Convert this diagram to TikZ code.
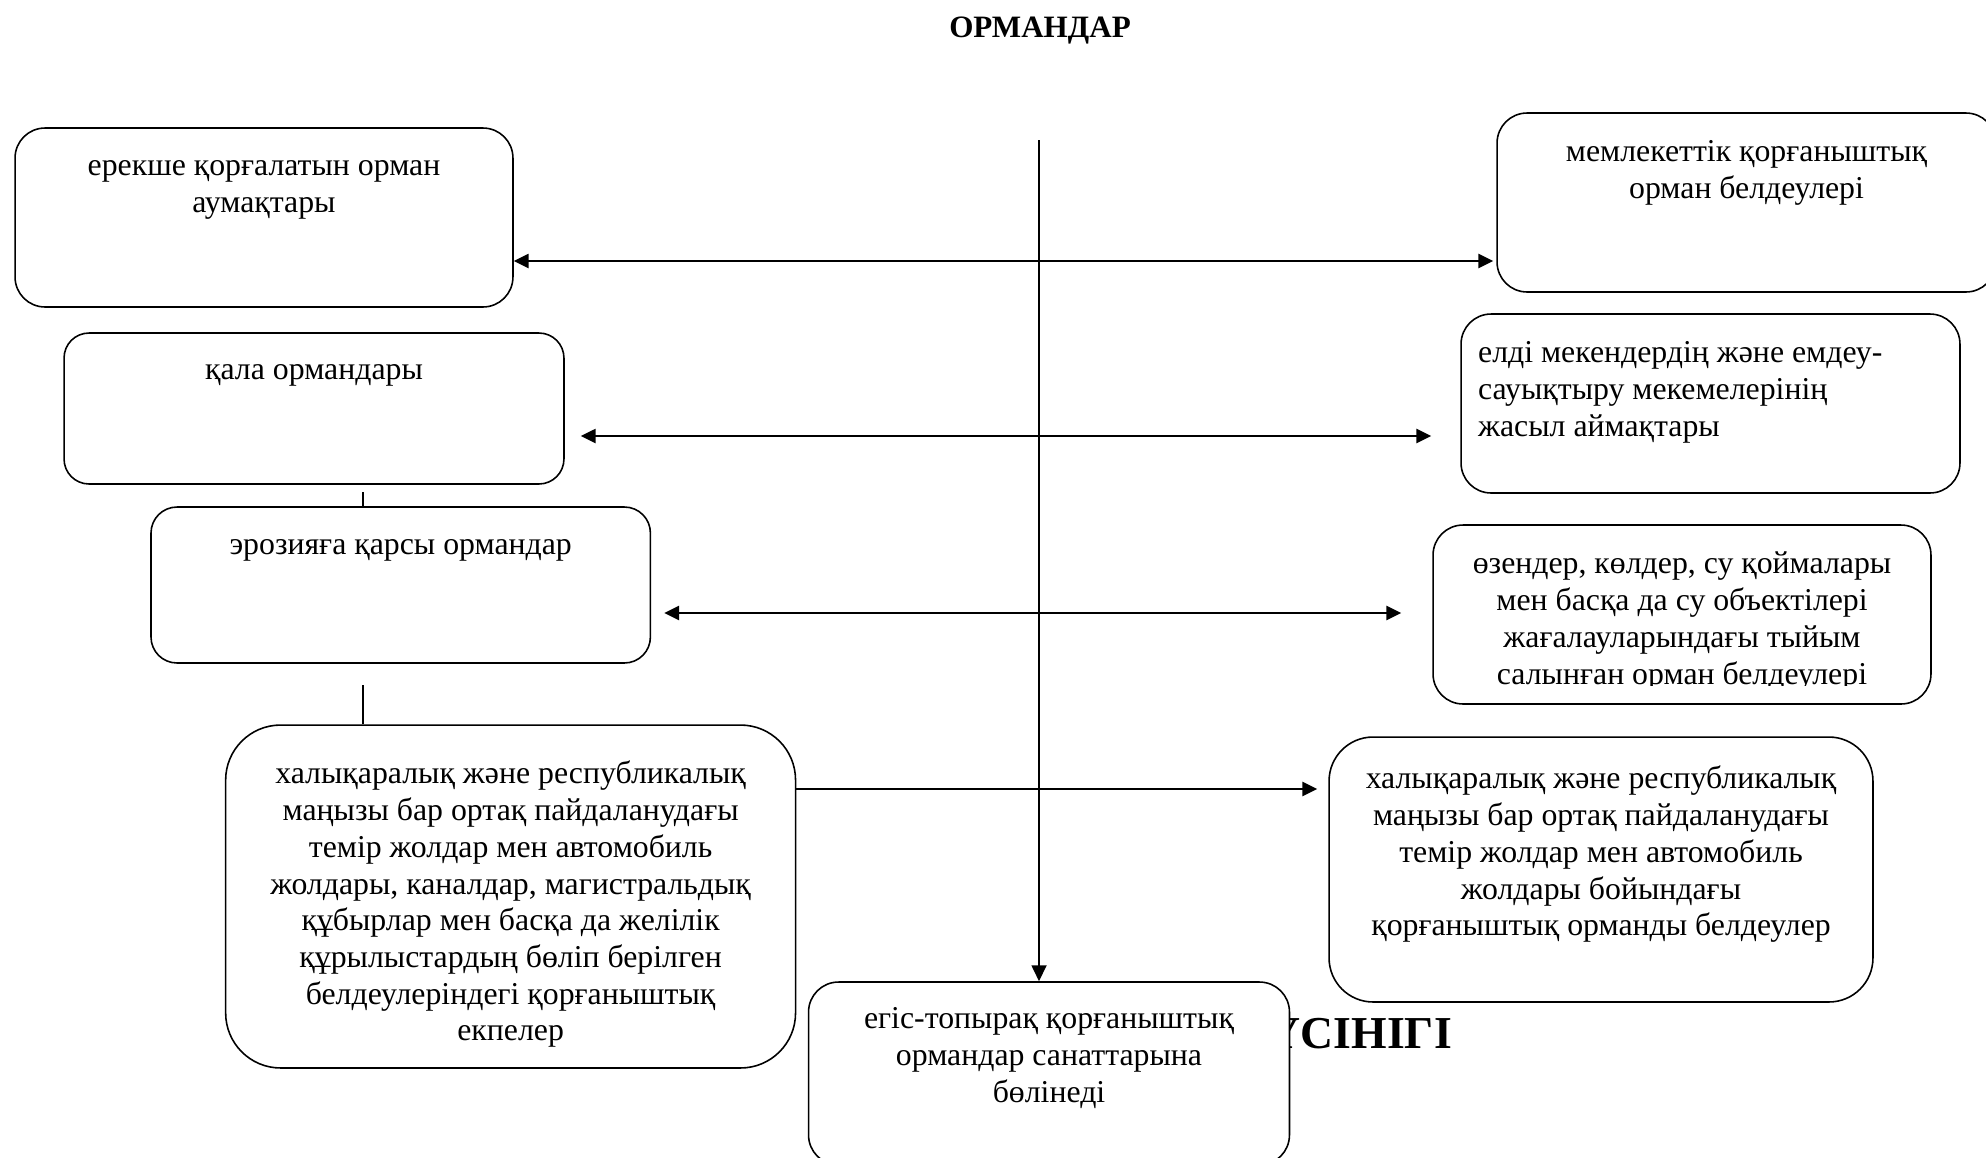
\documentclass[tikz,border=0pt]{standalone}
\usepackage{fontspec}
\setmainfont{Liberation Serif}
\usetikzlibrary{arrows.meta,calc}

\begin{document}
\begin{tikzpicture}[x=0.02cm, y=-0.02cm,
    box/.style={draw, fill=white, line width=0.9pt, inner sep=0pt},
    txt/.style={anchor=north, align=center, inner sep=0pt,
        font=\fontsize{18.1}{20.9}\selectfont, execute at begin node=\strut},
    link/.style={line width=1.5pt,
        {Triangle[length=0.3cm,width=0.28cm]}-{Triangle[length=0.3cm,width=0.28cm]}},
    onelink/.style={line width=1.5pt, -{Triangle[length=0.3cm,width=0.28cm]}}]
    % 画布
    \useasboundingbox (0,0) rectangle (1986,1157);

    % 标题
    \node[anchor=base, font=\fontsize{17.7}{20.4}\selectfont\bfseries] (title) at (1040,37) {ОРМАНДАР};
    % 被遮住的标题
    \node[anchor=base east, font=\fontsize{26}{30}\selectfont\bfseries] (hidden) at (1458,1048) {ҮСІНІГІ};

    % 方框
    \node[box, rounded corners=0.6cm, minimum width=9.96cm, minimum height=3.58cm] (b1) at (264,217.5) {};
    \node[box, rounded corners=0.6cm, minimum width=9.98cm, minimum height=3.58cm] (b2) at (1746.5,202.5) {};
    \node[box, rounded corners=0.5cm, minimum width=10cm, minimum height=3.02cm] (b3) at (314,408.5) {};
    \node[box, rounded corners=0.6cm, minimum width=9.98cm, minimum height=3.58cm] (b4) at (1710.5,403.5) {};
    \node[box, rounded corners=0.52cm, minimum width=9.99cm, minimum height=3.12cm] (b5) at (400.7,585) {};
    \node[box, rounded corners=0.6cm, minimum width=9.96cm, minimum height=3.58cm] (b6) at (1682,614.5) {};
    \node[box, rounded corners=1.1cm, minimum width=11.4cm, minimum height=6.86cm] (b7) at (510.6,896.5) {};
    \node[box, rounded corners=0.88cm, minimum width=10.88cm, minimum height=5.3cm] (b8) at (1601,869.5) {};
    \node[box, rounded corners=0.6cm, minimum width=9.62cm, minimum height=3.66cm] (b9) at (1049,1073.5) {};

    % 方框文字
    \node[txt] (t1) at ([yshift=-0.66cm]b1.north) {ерекше қорғалатын орман\\аумақтары};
    \node[txt] (t2) at ([yshift=-0.56cm]b2.north) {мемлекеттік қорғаныштық\\орман белдеулері};
    \node[txt] (t3) at ([yshift=-0.42cm]b3.north) {қала ормандары};
    \node[txt, anchor=north west, align=left] (t4) at ([xshift=0.35cm, yshift=-0.56cm]b4.north west)
        {елді мекендердің және емдеу-\\сауықтыру мекемелерінің\\жасыл аймақтары};
    \node[txt] (t5) at ([yshift=-0.44cm]b5.north) {эрозияға қарсы ормандар};
    \begin{scope}
        \clip (b6.north west) rectangle (b6.east |- 0,685);
        \node[txt] (t6) at ([yshift=-0.55cm]b6.north) {өзендер, көлдер, су қоймалары\\мен басқа да су объектілері\\жағалауларындағы тыйым\\салынған орман белдеулері};
    \end{scope}
    \node[txt] (t7) at ([yshift=-0.73cm]b7.north) {халықаралық және республикалық\\маңызы бар ортақ пайдаланудағы\\темір жолдар мен автомобиль\\жолдары, каналдар, магистральдық\\құбырлар мен басқа да желілік\\құрылыстардың бөліп берілген\\белдеулеріндегі қорғаныштық\\екпелер};
    \node[txt] (t8) at ([yshift=-0.59cm]b8.north) {халықаралық және республикалық\\маңызы бар ортақ пайдаланудағы\\темір жолдар мен автомобиль\\жолдары бойындағы\\қорғаныштық орманды белдеулер};
    \node[txt] (t9) at ([yshift=-0.52cm]b9.north) {егіс-топырақ қорғаныштық\\ормандар санаттарына\\бөлінеді};

    % 中轴
    \coordinate (top) at (1039,140);
    \draw[line width=1pt, -{Triangle[length=0.32cm,width=0.3cm]}] (top) -- (top |- b9.north);

    % 横向箭头
    \draw[link, shorten >=0.06cm] (b1.east |- 0,261) -- (b2.west |- 0,261);
    \draw[link, shorten <=0.32cm, shorten >=0.58cm] (b3.east |- 0,436) -- (b4.west |- 0,436);
    \draw[link, shorten <=0.26cm, shorten >=0.62cm] (b5.east |- 0,613) -- (b6.west |- 0,613);
    \draw[onelink, shorten >=0.22cm] (b7.east |- 0,789) -- (b8.west |- 0,789);

    % 短竖线
    \draw[line width=0.8pt] (b5.north -| 363,0) -- ++(0,-14);
    \draw[line width=0.8pt] (b7.north -| 363,0) -- ++(0,-39);
\end{tikzpicture}
\end{document}
